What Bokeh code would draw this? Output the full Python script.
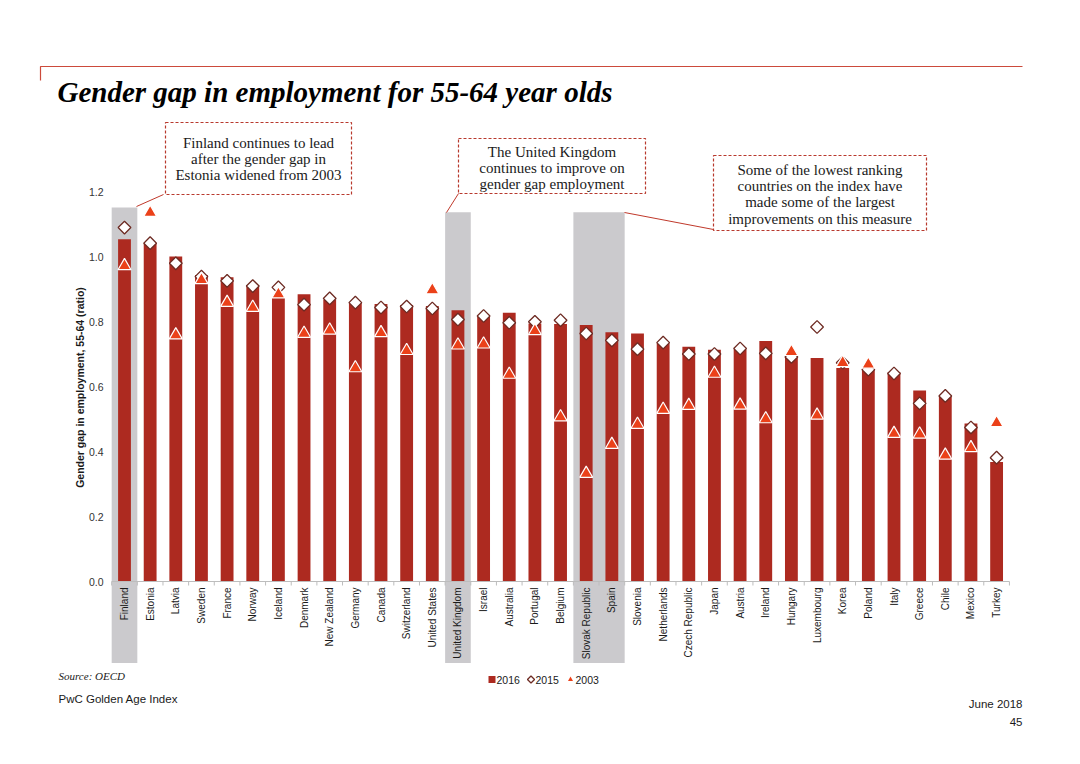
import numpy as np
from bokeh.plotting import figure
from bokeh.models import ColumnDataSource, Range1d
from bokeh.core.properties import value
from bokeh.embed import file_html
from bokeh.resources import INLINE

countries = [
    "Finland", "Estonia", "Latvia", "Sweden", "France", "Norway", "Iceland",
    "Denmark", "New Zealand", "Germany", "Canada", "Switzerland", "United States",
    "United Kingdom", "Israel", "Australia", "Portugal", "Belgium",
    "Slovak Republic", "Spain", "Slovenia", "Netherlands", "Czech Republic",
    "Japan", "Austria", "Ireland", "Hungary", "Luxembourg", "Korea", "Poland",
    "Italy", "Greece", "Chile", "Mexico", "Turkey",
]
ratio_2016 = [
    1.053, 1.041, 1.000, 0.943, 0.936, 0.912, 0.875, 0.884, 0.866, 0.859,
    0.854, 0.851, 0.848, 0.835, 0.814, 0.827, 0.794, 0.792, 0.789, 0.767,
    0.763, 0.733, 0.722, 0.713, 0.714, 0.740, 0.688, 0.688, 0.657, 0.653,
    0.643, 0.588, 0.569, 0.486, 0.368,
]
ratio_2015 = [
    1.089, 1.041, 0.979, 0.938, 0.925, 0.909, 0.905, 0.852, 0.871, 0.858,
    0.843, 0.846, 0.840, 0.806, 0.817, 0.796, 0.799, 0.804, 0.763, 0.742,
    0.715, 0.735, 0.700, 0.700, 0.717, 0.702, 0.691, 0.783, 0.673, 0.652,
    0.640, 0.548, 0.571, 0.474, 0.381,
]
ratio_2003 = [
    0.971, 1.135, 0.758, 0.928, 0.858, 0.843, 0.884, 0.763, 0.773, 0.657,
    0.765, 0.710, 0.897, 0.727, 0.730, 0.637, 0.771, 0.506, 0.332, 0.421,
    0.483, 0.529, 0.541, 0.640, 0.542, 0.500, 0.707, 0.511, 0.673, 0.668,
    0.455, 0.453, 0.388, 0.411, 0.488,
]
y_ticks = [0.0, 0.2, 0.4, 0.6, 0.8, 1.0, 1.2]
series_names = ["2016", "2015", "2003"]

# highlighted columns (grey bands) and how high they reach
highlight_groups = [["Finland"], ["United Kingdom"], ["Slovak Republic", "Spain"]]
highlight_tops = [1.151, 1.136, 1.136]

notes = [
    ["Finland continues to lead", "after the gender gap in", "Estonia widened from 2003"],
    ["The United Kingdom", "continues to improve on", "gender gap employment"],
    ["Some of the lowest ranking", "countries on the index have",
     "made some of the largest", "improvements on this measure"],
]

BAR = "#ad2a20"
TRI = "#eb4119"
DIA = "#6d2a22"
NOTE = "#b8392d"
GREY = "#cbcacd"
TXT = "#1a1a1a"
AXIS = "#bdbdbd"

W, H = 1080, 764


# page pixel -> data helpers (used for annotation placement only)
def dx(px):
    return (px - 124) / 25.65


def dy(py):
    return (581 - py) / 325.0


p = figure(
    width=W,
    height=H,
    output_backend="svg",
    toolbar_location=None,
    x_range=Range1d(dx(0), dx(W)),
    y_range=Range1d(dy(H), dy(0)),
    x_axis_location=None,
    y_axis_location=None,
    min_border=0,
    outline_line_color=None,
)
p.grid.visible = False
p.background_fill_color = "white"
p.border_fill_color = "white"

xs = list(range(len(countries)))
src = ColumnDataSource(
    data=dict(x=xs, country=countries, r16=ratio_2016, r15=ratio_2015, r03=ratio_2003)
)

# grey highlight bands
hx, hw, ht = [], [], []
for grp, top in zip(highlight_groups, highlight_tops):
    idx = [countries.index(c) for c in grp]
    hx.append((min(idx) + max(idx)) / 2)
    hw.append(len(idx))
    ht.append(top)
p.vbar(x=hx, width=hw, top=ht, bottom=dy(662.5), fill_color=GREY, line_color=None)

p.vbar(x="x", top="r16", bottom=0, width=0.5, source=src, fill_color=BAR, line_color=None)
p.scatter(
    x="x", y="r15", source=src, marker="square", angle=np.pi / 4, size=9,
    fill_color="white", line_color=DIA, line_width=1.3,
)
p.scatter(
    x="x", y="r03", source=src, marker="triangle", size=13,
    fill_color=TRI, line_color="white", line_width=1.2,
)

# x axis: base line, ticks between categories, rotated labels
n = len(countries)
p.segment(x0=-0.5, y0=0, x1=n - 0.5, y1=0, line_color=AXIS, line_width=1)
bounds = [i - 0.5 for i in range(n + 1)]
p.segment(x0=bounds, y0=[0] * len(bounds), x1=bounds, y1=[dy(585)] * len(bounds),
          line_color=AXIS, line_width=1)
p.text(
    x="x", y=dy(587), text="country", source=src, angle=np.pi / 2,
    text_align="right", text_baseline="middle",
    text_font=value("Liberation Sans"), text_font_size="10px", text_color=TXT,
)

# y axis tick labels and title
p.text(
    x=[dx(103)] * len(y_ticks), y=y_ticks, text=["%.1f" % t for t in y_ticks],
    text_align="right", text_baseline="middle",
    text_font=value("Liberation Sans"), text_font_size="10.5px", text_color="#333333",
)
p.text(
    x=[dx(79)], y=[dy(387)], text=["Gender gap in employment, 55-64 (ratio)"],
    angle=np.pi / 2, text_align="center", text_baseline="middle",
    text_font=value("Liberation Sans"), text_font_style="bold",
    text_font_size="10.5px", text_color=TXT,
)

# header rule and title
p.line(x=[dx(40), dx(40), dx(1022)], y=[dy(80), dy(66), dy(66)],
       line_color="#cc4a3b", line_width=1.2)
p.text(
    x=[dx(57)], y=[dy(107)], text=["Gender gap in employment for 55-64 year olds"],
    text_font=value("Liberation Serif"), text_font_style="bold italic",
    text_font_size="29px", text_color="black", text_baseline="bottom",
)

# note boxes with connectors
boxes = [(165, 351, 122, 194), (458, 645, 138, 193), (713, 926, 155, 230)]
line_ys = [[142, 158, 174], [151, 167, 183], [169, 185, 201, 218]]
for (l, r, t, b), lines, ys in zip(boxes, notes, line_ys):
    p.quad(left=dx(l), right=dx(r), top=dy(t), bottom=dy(b), fill_color="white",
           line_color=NOTE, line_dash="3 2", line_width=1.2)
    p.text(x=[dx((l + r) / 2)] * len(lines), y=[dy(v) for v in ys], text=lines,
           text_align="center", text_baseline="middle",
           text_font=value("Liberation Serif"), text_font_size="15px", text_color=TXT)

connectors = [((163, 194), (136, 206)), ((458, 193), (446, 212)), ((713, 229), (624, 212))]
for (ax_, ay_), (bx_, by_) in connectors:
    p.segment(x0=dx(ax_), y0=dy(ay_), x1=dx(bx_), y1=dy(by_), line_color="#c0392b", line_width=1)

# legend row
ly = dy(679)
p.scatter(x=[dx(491.5)], y=[ly], marker="square", size=7, fill_color=BAR, line_color=None)
p.scatter(x=[dx(530.5)], y=[ly], marker="square", angle=np.pi / 4, size=5,
          fill_color="white", line_color=DIA, line_width=1.3)
p.scatter(x=[dx(570)], y=[ly], marker="triangle", size=5, fill_color=TRI, line_color=None)
p.text(x=[dx(496), dx(535), dx(575)], y=[ly] * 3, text=series_names,
       text_align="left", text_baseline="middle",
       text_font=value("Liberation Sans"), text_font_size="10.5px", text_color=TXT)

# footer
p.text(x=[dx(58)], y=[dy(681)], text=["Source: OECD"], text_font=value("Liberation Serif"),
       text_font_style="italic", text_font_size="11px", text_color=TXT)
p.text(x=[dx(58)], y=[dy(704)], text=["PwC Golden Age Index"],
       text_font=value("Liberation Sans"), text_font_size="11.5px", text_color=TXT)
p.text(x=[dx(1022)] * 2, y=[dy(709), dy(725)], text=["June 2018", "45"],
       text_align="right", text_font=value("Liberation Sans"),
       text_font_size="11.5px", text_color=TXT)

open("out.html", "w").write(file_html(p, INLINE))
